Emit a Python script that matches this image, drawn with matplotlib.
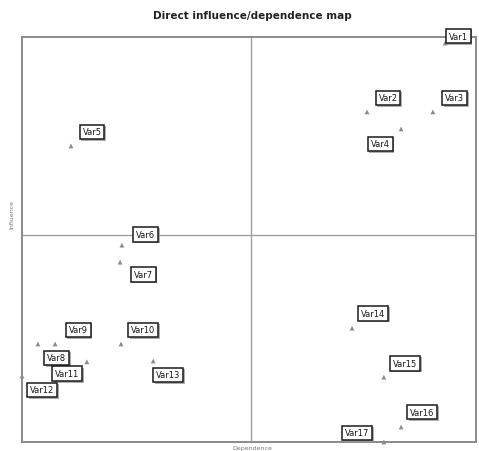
import matplotlib
matplotlib.use("Agg")
import matplotlib.pyplot as plt
import matplotlib.patheffects as pe

labels = ["Var1", "Var2", "Var3", "Var4", "Var5", "Var6", "Var7", "Var8", "Var9",
          "Var10", "Var11", "Var12", "Var13", "Var14", "Var15", "Var16", "Var17"]
dependence = [93.2, 76.0, 90.5, 83.5, 10.8, 22.0, 21.6, 3.5, 7.3,
              21.8, 14.3, 0.0, 28.9, 72.7, 79.7, 83.5, 79.7]
influence = [98.5, 81.5, 81.5, 77.3, 73.1, 48.6, 44.4, 24.2, 24.2,
             24.2, 19.8, 16.3, 20.0, 28.1, 16.0, 3.7, 0.0]

# label offsets in pixels (layout only)
offsets = [(13, 7), (21, 14), (22, 14), (-21, -15), (21, 14), (24, 11), (23, -12),
           (19, -14), (23, 14), (22, 14), (-20, -12), (20, -14), (15, -14),
           (21, 15), (21, 14), (21, 15), (-27, 9)]

W, H = 479, 452
fig = plt.figure(figsize=(W / 100, H / 100), dpi=100)
ax = fig.add_axes([22 / W, 1 - 443 / H, 454 / W, 405 / H])
ax.set_xlim(0, 100)
ax.set_ylim(0, 100)
ax.set_xticks([])
ax.set_yticks([])
for s in ax.spines.values():
    s.set_color("#8a8a8a")
    s.set_linewidth(1.4)

ax.axvline(50.5, color="#a0a0a0", lw=1.0)
ax.axhline(51.0, color="#a0a0a0", lw=1.0)

ax.scatter(dependence, influence, marker="^", s=12, color="#8c8c8c",
           edgecolors="none", clip_on=False, zorder=3)

pts_per_px = 72 / 100
for name, x, y, (dx, dy) in zip(labels, dependence, influence, offsets):
    t = ax.annotate(name, (x, y), xytext=(dx * pts_per_px, dy * pts_per_px),
                    textcoords="offset points", ha="center", va="center",
                    fontsize=6, color="#1a1a1a", annotation_clip=False,
                    bbox=dict(boxstyle="square,pad=0.35", fc="white", ec="#1a1a1a", lw=1.1),
                    zorder=5)
    t.get_bbox_patch().set_path_effects([
        pe.SimplePatchShadow(offset=(1.2, -1.2), shadow_rgbFace="#9a9a9a", alpha=0.8),
        pe.Normal()])

fig.text(252 / W, 1 - 16 / H, "Direct influence/dependence map", ha="center",
         va="center", fontsize=7.5, fontweight="bold", color="#222222")
fig.text(252 / W, 1 - 449 / H, "Dependence", ha="center", va="center",
         fontsize=4.5, color="#777777")
fig.text(12 / W, 1 - 215 / H, "Influence", ha="center", va="center",
         fontsize=4.5, color="#777777", rotation=90)

fig.savefig("out.png", dpi=100, facecolor="white")
